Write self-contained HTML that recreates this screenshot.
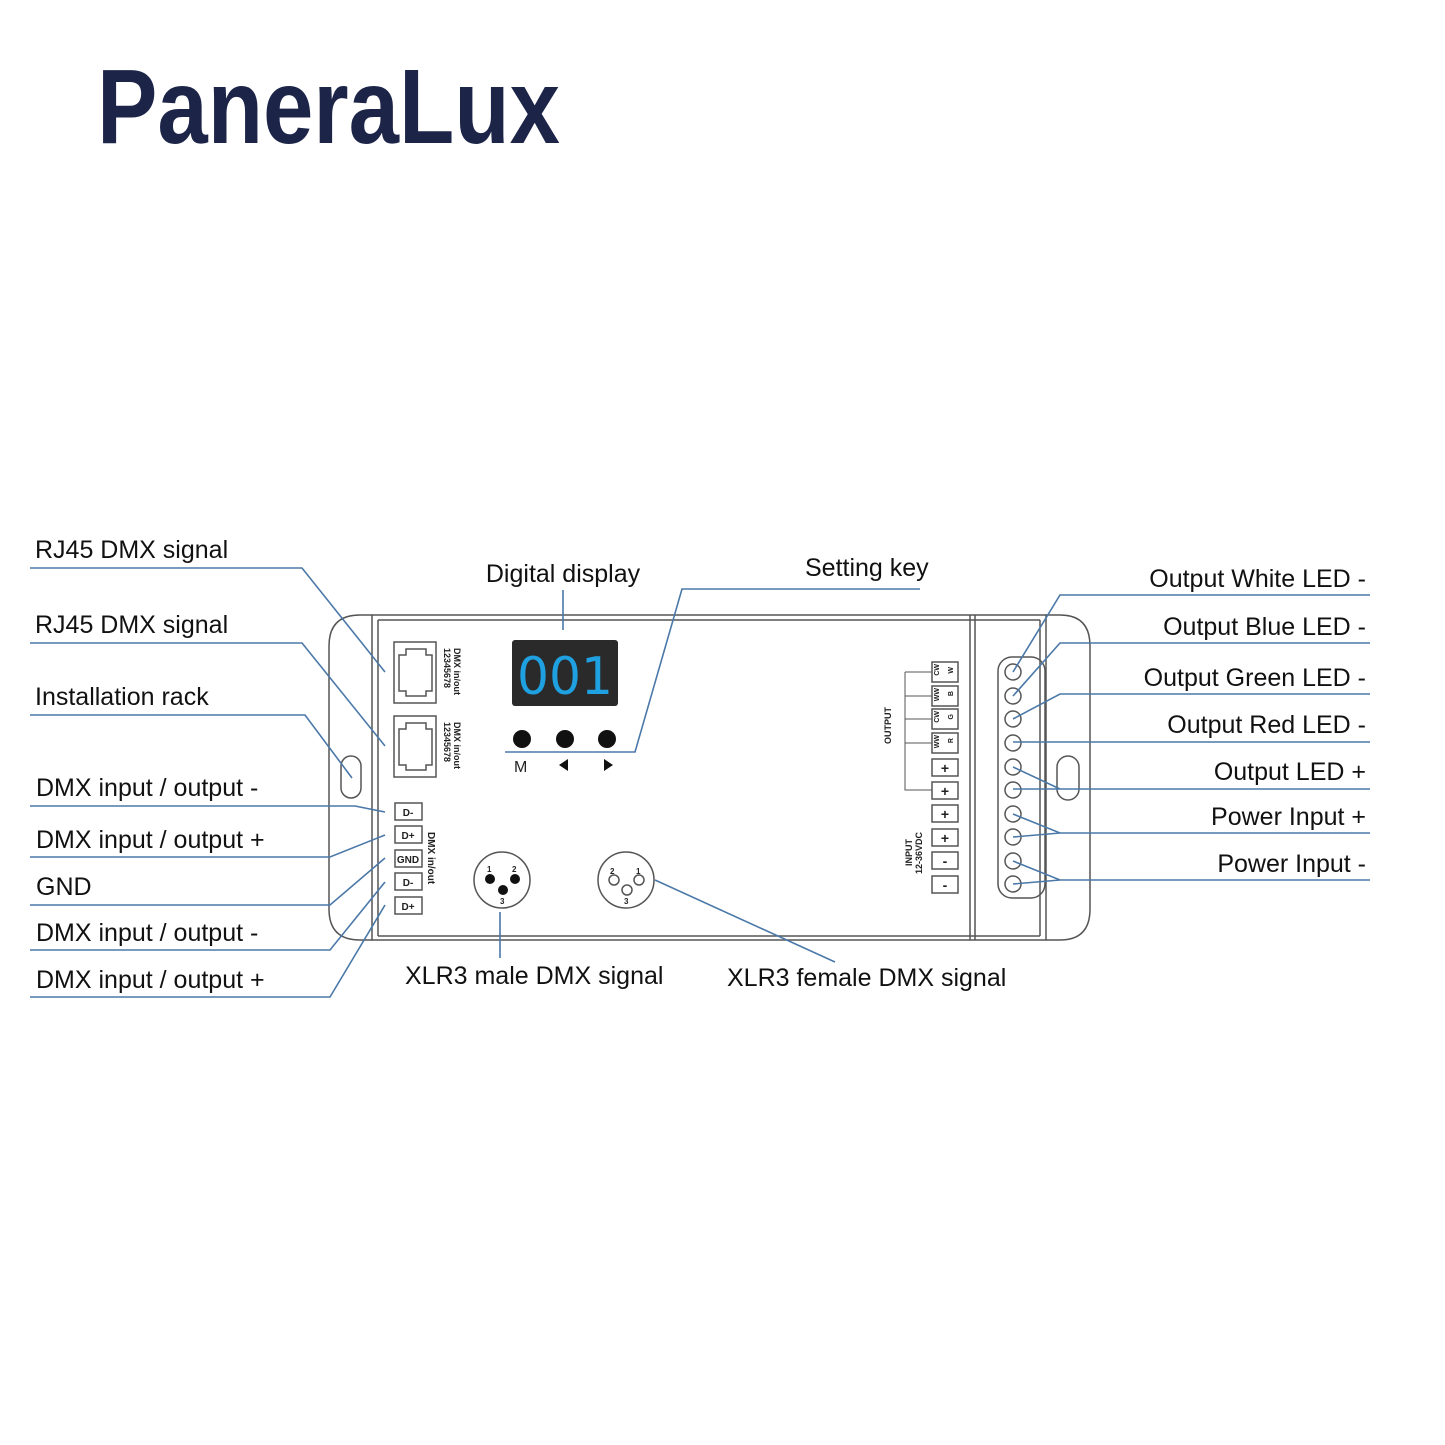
<!DOCTYPE html>
<html><head><meta charset="utf-8"><style>
html,body{margin:0;padding:0;background:#fff;}
svg{display:block;}
.t{font-family:"Liberation Sans",sans-serif;font-size:25px;fill:#111;}
.l{stroke:#4a78a8;stroke-width:1.6;fill:none;}
.d{stroke:#555;stroke-width:1.5;fill:none;}
.s{font-family:"Liberation Sans",sans-serif;font-weight:bold;fill:#222;}
</style></head><body>
<svg width="1445" height="1445" viewBox="0 0 1445 1445" xmlns="http://www.w3.org/2000/svg">
<text x="97" y="143" textLength="463" lengthAdjust="spacingAndGlyphs" style="font-family:'Liberation Sans',sans-serif;font-weight:bold;font-size:106px;fill:#1c2448">PaneraLux</text>

<!-- device -->
<path class="d" d="M372 615 H360 Q329 615 329 646 V909 Q329 940 360 940 H372"/>
<path class="d" d="M1046 615 H1060 Q1090 615 1090 646 V909 Q1090 940 1060 940 H1046"/>
<rect class="d" x="372" y="615" width="674" height="325"/>
<line class="d" x1="378" y1="620" x2="1040" y2="620"/>
<line class="d" x1="378" y1="936" x2="1040" y2="936"/>
<line class="d" x1="378" y1="620" x2="378" y2="936"/>
<line class="d" x1="970" y1="615" x2="970" y2="940"/>
<line class="d" x1="975" y1="615" x2="975" y2="940"/>
<line class="d" x1="1040" y1="620" x2="1040" y2="936"/>
<rect class="d" x="341" y="756" width="20" height="42" rx="10"/>
<rect class="d" x="1057" y="756" width="22" height="44" rx="11"/>
<rect class="d" x="998" y="657" width="47" height="241" rx="14"/>
<g class="d">
<circle cx="1013" cy="672" r="8"/><circle cx="1013" cy="696" r="8"/><circle cx="1013" cy="719" r="8"/><circle cx="1013" cy="743" r="8"/><circle cx="1013" cy="767" r="8"/><circle cx="1013" cy="790" r="8"/><circle cx="1013" cy="814" r="8"/><circle cx="1013" cy="837" r="8"/><circle cx="1013" cy="861" r="8"/><circle cx="1013" cy="884" r="8"/>
</g>
<!-- RJ45 -->
<g class="d">
<rect x="394" y="642" width="42" height="61"/><path d="M399 655 h7 v-6 h20 v6 h6 v36 h-6 v5 h-20 v-5 h-7 z"/>
<rect x="394" y="716" width="42" height="61"/><path d="M399 729 h7 v-6 h20 v6 h6 v36 h-6 v5 h-20 v-5 h-7 z"/>
</g>
<text class="s" font-size="9" transform="translate(454,648) rotate(90)">DMX in/out</text>
<text class="s" font-size="9" transform="translate(444,648) rotate(90)">12345678</text>
<text class="s" font-size="9" transform="translate(454,722) rotate(90)">DMX in/out</text>
<text class="s" font-size="9" transform="translate(444,722) rotate(90)">12345678</text>
<!-- terminals left -->
<g class="d"><rect x="395" y="803" width="27" height="17"/><rect x="395" y="826" width="27" height="17"/><rect x="395" y="850" width="27" height="17"/><rect x="395" y="873" width="27" height="17"/><rect x="395" y="897" width="27" height="17"/></g>
<g class="s" font-size="10" text-anchor="middle"><text x="408" y="816">D-</text><text x="408" y="839">D+</text><text x="408" y="863">GND</text><text x="408" y="886">D-</text><text x="408" y="910">D+</text></g>
<text class="s" font-size="10" transform="translate(428,832) rotate(90)">DMX in/out</text>
<!-- display -->
<rect x="512" y="640" width="106" height="66" rx="3" fill="#2a2a2a"/>
<text x="517" y="694" style="font-family:'DejaVu Sans',sans-serif;font-size:52px;fill:#1fa0e0" textLength="96" lengthAdjust="spacingAndGlyphs">001</text>
<circle cx="522" cy="739" r="9" fill="#111"/><circle cx="565" cy="739" r="9" fill="#111"/><circle cx="607" cy="739" r="9" fill="#111"/>
<text class="s" font-size="16" x="514" y="772" style="font-weight:normal">M</text>
<path d="M559 765 l9 -6 v12 z M604 759 l9 6 l-9 6 z" fill="#111"/>
<!-- XLR -->
<circle class="d" cx="502" cy="880" r="28"/><circle cx="490" cy="879" r="5" fill="#111"/><circle cx="515" cy="879" r="5" fill="#111"/><circle cx="503" cy="890" r="5" fill="#111"/>
<g class="s" font-size="8"><text x="487" y="872">1</text><text x="512" y="872">2</text><text x="500" y="904">3</text>
<text x="610" y="874">2</text><text x="636" y="874">1</text><text x="624" y="904">3</text></g>
<circle class="d" cx="626" cy="880" r="28"/><circle class="d" cx="614" cy="880" r="5"/><circle class="d" cx="639" cy="880" r="5"/><circle class="d" cx="627" cy="890" r="5"/>
<!-- right terminals -->
<g class="d"><rect x="932" y="759" width="26" height="17"/><rect x="932" y="782" width="26" height="17"/><rect x="932" y="805" width="26" height="17"/><rect x="932" y="829" width="26" height="17"/><rect x="932" y="852" width="26" height="17"/><rect x="932" y="876" width="26" height="17"/>
<rect x="932" y="662" width="26" height="20"/><rect x="932" y="686" width="26" height="20"/><rect x="932" y="709" width="26" height="20"/><rect x="932" y="733" width="26" height="20"/>
<path d="M905 672 V790 H932 M905 672 h27 M905 696 h27 M905 719 h27 M905 743 h27" stroke-width="1"/></g>
<g class="s" font-size="14" text-anchor="middle"><text x="945" y="773">+</text><text x="945" y="796">+</text><text x="945" y="819">+</text><text x="945" y="843">+</text><text x="945" y="866">-</text><text x="945" y="890">-</text></g>
<g class="s" font-size="7"><text transform="translate(939,664) rotate(-90)" text-anchor="end">CW</text><text transform="translate(939,688) rotate(-90)" text-anchor="end">WW</text><text transform="translate(939,711) rotate(-90)" text-anchor="end">CW</text><text transform="translate(939,735) rotate(-90)" text-anchor="end">WW</text>
<text transform="translate(953,667) rotate(-90)" text-anchor="end">W</text><text transform="translate(953,691) rotate(-90)" text-anchor="end">B</text><text transform="translate(953,714) rotate(-90)" text-anchor="end">G</text><text transform="translate(953,738) rotate(-90)" text-anchor="end">R</text></g>
<text class="s" font-size="9" transform="translate(891,744) rotate(-90)">OUTPUT</text>
<text class="s" font-size="9" transform="translate(912,866) rotate(-90)">INPUT</text>
<text class="s" font-size="9" transform="translate(922,874) rotate(-90)">12-36VDC</text>

<!-- leaders -->
<g class="l">
<path d="M30 568 H302 L385 672"/><path d="M30 643 H302 L385 746"/><path d="M30 715 H305 L352 778"/>
<path d="M30 806 H355 L385 812"/><path d="M30 857 H330 L385 835"/><path d="M30 905 H330 L385 858"/>
<path d="M30 950 H330 L385 882"/><path d="M30 997 H330 L385 905"/>
<path d="M563 590 V630"/><path d="M920 589 H682 L635 752 H505"/>
<path d="M500 912 V958"/><path d="M655 880 L835 962"/>
<path d="M1370 595 H1060 L1013 672"/><path d="M1370 643 H1060 L1013 696"/><path d="M1370 694 H1060 L1013 719"/>
<path d="M1370 742 H1013"/><path d="M1370 789 H1013 M1013 767 L1060 789"/>
<path d="M1370 833 H1060 L1013 814 M1060 833 L1013 837"/><path d="M1370 880 H1060 L1013 861 M1060 880 L1013 884"/>
</g>
<g class="t">
<text x="35" y="558">RJ45 DMX signal</text><text x="35" y="633">RJ45 DMX signal</text><text x="35" y="705">Installation rack</text>
<text x="36" y="796">DMX input / output -</text><text x="36" y="848">DMX input / output +</text><text x="36" y="895">GND</text>
<text x="36" y="941">DMX input / output -</text><text x="36" y="988">DMX input / output +</text>
<text x="563" y="582" text-anchor="middle">Digital display</text><text x="805" y="576">Setting key</text>
<text x="405" y="984">XLR3 male DMX signal</text><text x="727" y="986">XLR3 female DMX signal</text>
<g text-anchor="end"><text x="1366" y="587">Output White LED -</text><text x="1366" y="635">Output Blue LED -</text><text x="1366" y="686">Output Green LED -</text><text x="1366" y="733">Output Red LED -</text><text x="1366" y="780">Output LED +</text><text x="1366" y="825">Power Input +</text><text x="1366" y="872">Power Input -</text></g>
</g>
</svg>
</body></html>
